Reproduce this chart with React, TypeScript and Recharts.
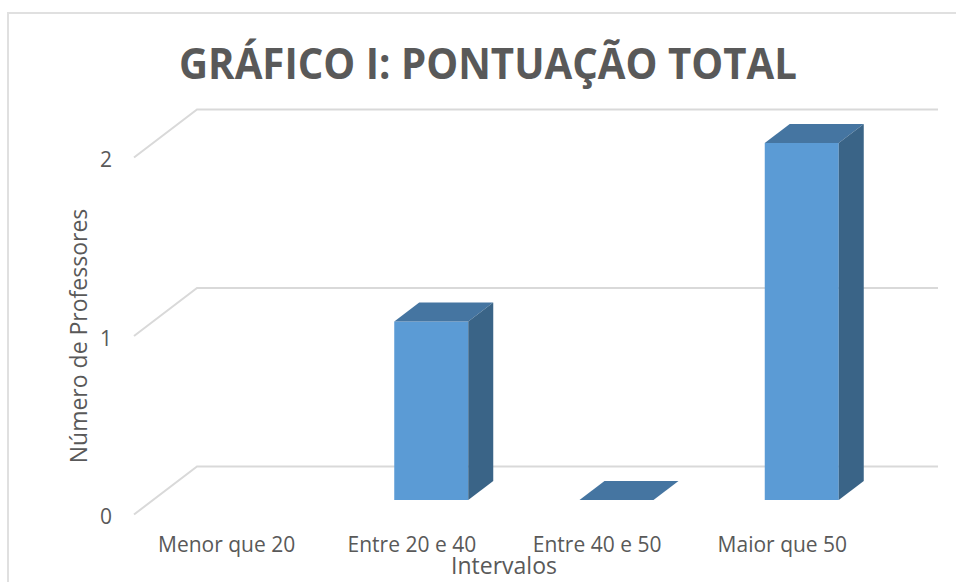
import { BarChart, Bar, XAxis, YAxis, CartesianGrid } from 'recharts';

const categories = ['Menor que 20', 'Entre 20 e 40', 'Entre 40 e 50', 'Maior que 50'];
const professors = [null, 1, 0, 2];
const yTicks = [0, 1, 2];

const data = categories.map((name, i) => ({ name, count: professors[i] }));

const FONT = '"Open Sans", sans-serif';
const TEXT = '#595959';
const GRID = '#d9d9d9';

// fake 3d: how far the bar top/side goes back from the front face
const DEPTH_X = 25;
const DEPTH_Y = 19;

function Bar3D(props: any) {
  const { x, y, width, height, payload } = props;
  if (payload.count === null) return null;
  const h = height || 0;
  return (
    <g>
      <rect x={x} y={y} width={width} height={h} fill="#5B9BD5" />
      <path
        d={`M${x} ${y} L${x + DEPTH_X} ${y - DEPTH_Y} L${x + width + DEPTH_X} ${y - DEPTH_Y} L${x + width} ${y} Z`}
        fill="#4575A1"
      />
      <path
        d={`M${x + width} ${y} L${x + width + DEPTH_X} ${y - DEPTH_Y} L${x + width + DEPTH_X} ${y + h - DEPTH_Y} L${x + width} ${y + h} Z`}
        fill="#3A6487"
      />
    </g>
  );
}

// gridline on the back wall plus the diagonal on the side wall
function GridLine3D(props: any) {
  const { x1, x2, y1 } = props;
  return (
    <path
      key={y1}
      d={`M${x1 - 19} ${y1 + 14.5} L${x1 + 44} ${y1 - 33.5} L${x2 + 44} ${y1 - 33.5}`}
      fill="none"
      stroke={GRID}
      strokeWidth={2}
    />
  );
}

function XTick({ x, y, payload }: any) {
  return (
    <text x={x - 19} y={y + 44} textAnchor="middle" dominantBaseline="central" fontFamily={FONT} fontSize={21} fill={TEXT}>
      {payload.value}
    </text>
  );
}

function YTick({ x, y, payload }: any) {
  return (
    <text x={x - 41} y={y + 16} textAnchor="end" dominantBaseline="central" fontFamily={FONT} fontSize={21} fill={TEXT}>
      {payload.value}
    </text>
  );
}

export default function App() {
  return (
    <div style={{ position: 'absolute', left: 0, top: 0, width: 956, height: 582, background: '#fff', overflow: 'hidden' }}>
      <div
        style={{
          position: 'absolute',
          left: 7,
          top: 12,
          width: 960,
          height: 600,
          borderLeft: '2px solid #e0e0e0',
          borderTop: '2px solid #e0e0e0',
        }}
      />
      <BarChart
        width={956}
        height={582}
        data={data}
        barSize={74}
        margin={{ top: 143, right: 62, bottom: 42, left: 93 }}
        style={{ position: 'absolute', left: 0, top: 0 }}
      >
        <CartesianGrid vertical={false} horizontal={GridLine3D} />
        <XAxis dataKey="name" height={40} axisLine={false} tickLine={false} tickSize={0} tickMargin={0} tick={XTick} interval={0} />
        <YAxis
          width={60}
          domain={[0, 2]}
          ticks={yTicks}
          axisLine={false}
          tickLine={false}
          tickSize={0}
          tickMargin={0}
          tick={YTick}
        />
        <Bar dataKey="count" isAnimationActive={false} shape={Bar3D} />
        <text
          x={488}
          y={62}
          textAnchor="middle"
          dominantBaseline="central"
          fontFamily={FONT}
          fontSize={43}
          fontWeight={700}
          fill={TEXT}
          textLength={618}
          lengthAdjust="spacingAndGlyphs"
        >
          GRÁFICO I: PONTUAÇÃO TOTAL
        </text>
        <text x={504} y={565} textAnchor="middle" dominantBaseline="central" fontFamily={FONT} fontSize={23} fill={TEXT}>
          Intervalos
        </text>
        <text
          x={78}
          y={336}
          textAnchor="middle"
          dominantBaseline="central"
          transform="rotate(-90 78 336)"
          fontFamily={FONT}
          fontSize={23}
          fill={TEXT}
        >
          Número de Professores
        </text>
      </BarChart>
    </div>
  );
}
